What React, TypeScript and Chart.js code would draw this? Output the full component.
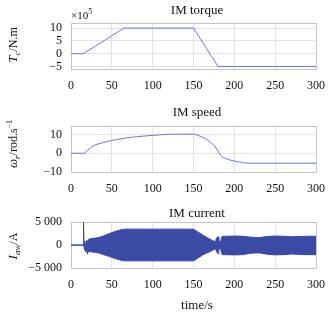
import React, { useEffect, useRef } from 'react';
import { Chart, registerables } from 'chart.js';

Chart.register(...registerables);

// ---------- data ----------
const timeTicks = [0, 50, 100, 150, 200, 250, 300];

// IM torque (×10^5 N.m)
const torqueTime = [0, 15, 65, 150, 180, 300];
const torqueValue = [0, 0, 10, 10, -5, -5];
const torqueTicks = [-5, 0, 5, 10];

// IM speed (rod/s)
const speedTime = [0, 17, 20, 25, 30, 40, 50, 65, 80, 100, 120, 150, 155, 160, 165, 170, 175, 179, 183, 186, 193, 200, 210, 215, 300];
const speedValue = [0, 0, 1.5, 3.3, 4.5, 5.8, 6.8, 8, 8.8, 9.5, 10.1, 10.2, 9.6, 8.7, 7.7, 6.2, 4.2, 1.9, -1, -2.2, -3.4, -4.2, -5, -5.3, -5.3];
const speedTicks = [-10, 0, 10];

// IM current (A): upper / lower envelope of the oscillation
const currentTime = [0, 14.8, 15.3, 16, 17, 18, 19, 20, 21, 23, 25, 30, 35, 40, 47, 55, 63, 66, 100, 150, 155, 161, 167, 173, 177, 178, 180, 181, 183, 185, 190, 200, 210, 220, 230, 240, 250, 260, 270, 280, 290, 300];
const currentUpper = [0, 0, 5000, 0, 800, -300, 1000, 500, 1200, 1300, 1400, 1500, 1700, 2000, 2500, 3000, 3400, 3450, 3450, 3450, 2900, 2200, 1600, 1000, 700, 1500, 1800, 1000, 600, 1900, 1900, 1950, 1900, 1700, 1600, 1850, 1950, 1900, 1800, 1850, 1900, 1900];
const currentLower = [0, 0, 0, -500, -1000, -1500, -1000, -2000, -1500, -1400, -1500, -1600, -1800, -2100, -2500, -3000, -3400, -3450, -3450, -3450, -2900, -2200, -1700, -1200, -800, -1400, -1900, -1000, -700, -2100, -2100, -2150, -2100, -1800, -1700, -2000, -2150, -2100, -1950, -2050, -2100, -2100];
const currentTicks = [-5000, 0, 5000];

// ---------- styling ----------
const SERIF = "'Liberation Serif', 'DejaVu Serif', serif";
const LINE = '#6f77c9';
const FILL = '#3a4aa5';
const GRID = '#e3e3e3';
const BOX = '#c4c4c4';
const TEXT = '#111111';

Chart.defaults.font.family = SERIF;
Chart.defaults.font.size = 12;
Chart.defaults.color = TEXT;

type Part = { text: string; italic?: boolean; size: number; dy?: number };

function drawParts(ctx: CanvasRenderingContext2D, parts: Part[], x: number, y: number, rotate: boolean, align: 'center' | 'left') {
  ctx.save();
  ctx.translate(x, y);
  if (rotate) ctx.rotate(-Math.PI / 2);
  ctx.fillStyle = TEXT;
  ctx.textBaseline = 'alphabetic';
  ctx.textAlign = 'left';
  const widths = parts.map((p) => {
    ctx.font = `${p.italic ? 'italic ' : ''}${p.size}px ${SERIF}`;
    return ctx.measureText(p.text).width;
  });
  const total = widths.reduce((a, b) => a + b, 0);
  let cx = align === 'center' ? -total / 2 : 0;
  parts.forEach((p, i) => {
    ctx.font = `${p.italic ? 'italic ' : ''}${p.size}px ${SERIF}`;
    ctx.fillText(p.text, cx, 4 + (p.dy || 0));
    cx += widths[i];
  });
  ctx.restore();
}

type Spec = {
  title: string;
  titleY: number;
  yTitle: Part[];
  yTitleY: number;
  extra?: (ctx: CanvasRenderingContext2D, chart: Chart) => void;
};

function decor(spec: Spec) {
  return {
    id: 'decor',
    beforeDatasetsDraw(chart: Chart) {
      const { ctx, chartArea: a } = chart;
      ctx.save();
      ctx.strokeStyle = BOX;
      ctx.lineWidth = 1;
      ctx.strokeRect(Math.round(a.left) + 0.5, Math.round(a.top) + 0.5, Math.round(a.right - a.left), Math.round(a.bottom - a.top));
      ctx.restore();
    },
    afterDraw(chart: Chart) {
      const ctx = chart.ctx;
      drawParts(ctx, [{ text: spec.title, size: 13 }], 197, spec.titleY, false, 'center');
      drawParts(ctx, spec.yTitle, 13, spec.yTitleY, true, 'center');
      if (spec.extra) spec.extra(ctx, chart);
    },
  };
}

function fmtNum(v: number): string {
  const s = Math.abs(v).toString().replace(/\B(?=(\d{3})+(?!\d))/g, ' ');
  return (v < 0 ? '\u2212' : '') + s;
}

function makeConfig(opts: {
  datasets: any[];
  yMin: number;
  yMax: number;
  yTicks: number[];
  padTop: number;
  xHeight: number;
  spec: Spec;
}): any {
  const tickFont = { family: SERIF, size: 12 };
  return {
    type: 'line',
    data: { datasets: opts.datasets },
    options: {
      responsive: false,
      animation: false,
      parsing: false,
      normalized: true,
      layout: { padding: { top: opts.padTop, right: 17, left: 0, bottom: 0 } },
      plugins: { legend: { display: false }, tooltip: { enabled: false }, title: { display: false } },
      elements: { point: { radius: 0 }, line: { tension: 0 } },
      scales: {
        x: {
          type: 'linear',
          min: 0,
          max: 300,
          afterBuildTicks: (a: any) => {
            a.ticks = timeTicks.map((v) => ({ value: v }));
          },
          afterFit: (a: any) => {
            a.height = opts.xHeight;
          },
          grid: { color: GRID, drawTicks: false, lineWidth: 1 },
          border: { display: false },
          ticks: { padding: 10, font: tickFont, color: TEXT, maxRotation: 0, autoSkip: false, callback: (v: number) => fmtNum(v) },
        },
        y: {
          type: 'linear',
          min: opts.yMin,
          max: opts.yMax,
          afterBuildTicks: (a: any) => {
            a.ticks = opts.yTicks.map((v) => ({ value: v }));
          },
          afterFit: (a: any) => {
            a.width = 71;
          },
          grid: { color: GRID, drawTicks: false, lineWidth: 1 },
          border: { display: false },
          ticks: { padding: 9, font: tickFont, color: TEXT, autoSkip: false, callback: (v: number) => fmtNum(v) },
        },
      },
    },
    plugins: [decor(opts.spec)],
  };
}

const pts = (xs: number[], ys: number[]) => xs.map((x, i) => ({ x, y: ys[i] }));

export default function App() {
  const c1 = useRef<HTMLCanvasElement>(null);
  const c2 = useRef<HTMLCanvasElement>(null);
  const c3 = useRef<HTMLCanvasElement>(null);

  useEffect(() => {
    const charts: Chart[] = [];
    if (c1.current) {
      charts.push(
        new Chart(
          c1.current,
          makeConfig({
            datasets: [{ data: pts(torqueTime, torqueValue), borderColor: LINE, borderWidth: 1, fill: false }],
            yMin: -6,
            yMax: 12,
            yTicks: torqueTicks,
            padTop: 23,
            xHeight: 31,
            spec: {
              title: 'IM torque',
              titleY: 10,
              yTitle: [
                { text: 'T', italic: true, size: 13 },
                { text: 'c', italic: true, size: 9, dy: 3 },
                { text: '/N.m', size: 12 },
              ],
              yTitleY: 45,
              extra: (ctx) => {
                drawParts(
                  ctx,
                  [
                    { text: '\u00d710', size: 11 },
                    { text: '5', size: 8, dy: -5 },
                  ],
                  71,
                  15,
                  false,
                  'left'
                );
              },
            },
          })
        )
      );
    }
    if (c2.current) {
      charts.push(
        new Chart(
          c2.current,
          makeConfig({
            datasets: [{ data: pts(speedTime, speedValue), borderColor: LINE, borderWidth: 1, fill: false }],
            yMin: -10,
            yMax: 14.5,
            yTicks: speedTicks,
            padTop: 26,
            xHeight: 28,
            spec: {
              title: 'IM speed',
              titleY: 12,
              yTitle: [
                { text: '\u03c9', italic: true, size: 13 },
                { text: 'r', italic: true, size: 9, dy: 3 },
                { text: '/rod.s', size: 12 },
                { text: '\u22121', size: 8, dy: -5 },
              ],
              yTitleY: 44,
            },
          })
        )
      );
    }
    if (c3.current) {
      charts.push(
        new Chart(
          c3.current,
          makeConfig({
            datasets: [
              { data: pts(currentTime, currentUpper), borderColor: FILL, borderWidth: 1, fill: '+1', backgroundColor: FILL },
              { data: pts(currentTime, currentLower), borderColor: FILL, borderWidth: 1, fill: false },
            ],
            yMin: -5000,
            yMax: 5000,
            yTicks: currentTicks,
            padTop: 22,
            xHeight: 49,
            spec: {
              title: 'IM current',
              titleY: 13,
              yTitle: [
                { text: 'I', italic: true, size: 13 },
                { text: 'aw', italic: true, size: 9, dy: 3 },
                { text: '/A', size: 12 },
              ],
              yTitleY: 46,
              extra: (ctx) => {
                drawParts(ctx, [{ text: 'time/s', size: 13 }], 197, 105, false, 'center');
              },
            },
          })
        )
      );
    }
    return () => charts.forEach((c) => c.destroy());
  }, []);

  const cs = (top: number): React.CSSProperties => ({ position: 'absolute', left: 0, top, display: 'block' });

  return (
    <div style={{ position: 'absolute', left: 0, top: 0, width: 335, height: 317, background: '#fff' }}>
      <canvas ref={c1} width={335} height={100} style={cs(0)} />
      <canvas ref={c2} width={335} height={100} style={cs(100)} />
      <canvas ref={c3} width={335} height={117} style={cs(200)} />
    </div>
  );
}
